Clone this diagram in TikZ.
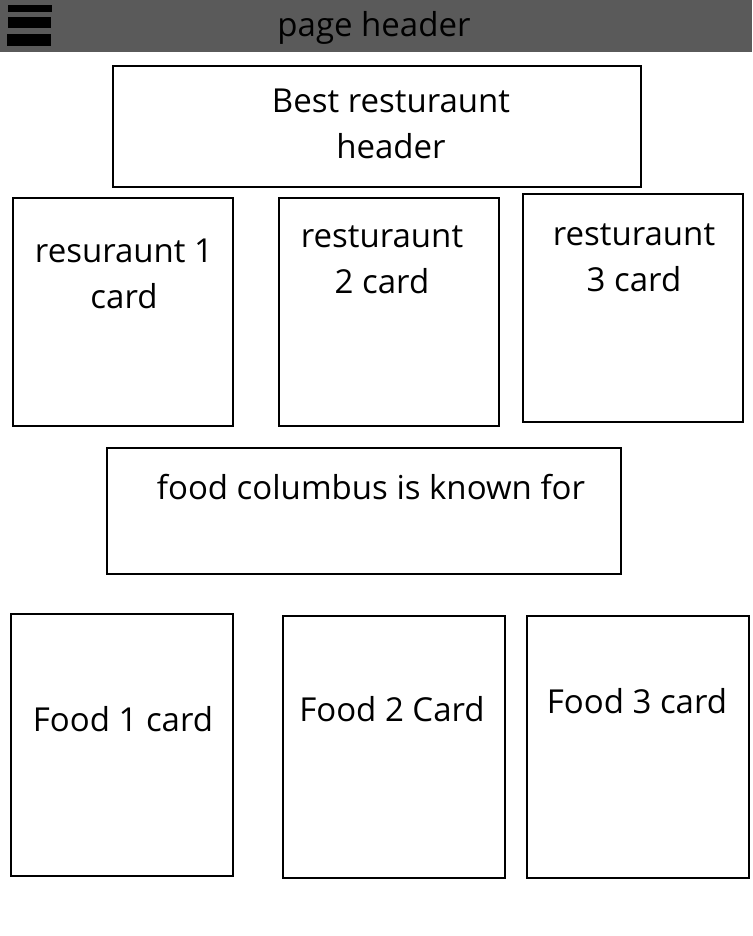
\documentclass[tikz,border=0pt]{standalone}
\usepackage{fontspec}
\setmainfont{Open Sans}
\usepackage{tikz}
\definecolor{headgray}{RGB}{90,90,90}
\tikzset{
	card/.style={line width=2pt, draw=black},
	label/.style={font=\fontsize{33}{46}\selectfont, align=center, inner sep=0pt}
}

\begin{document}
\begin{tikzpicture}[x=1pt, y=-1pt]
			%%%%% START %%%%%
			\useasboundingbox (0, 0) rectangle (752, 936);
			\fill[white] (0, 0) rectangle (752, 936);
			
			\fill[headgray] (0, 0) rectangle (752, 52);
			\fill[black] (8, 5) rectangle (52, 12);
			\fill[black] (8, 17) rectangle (51, 28);
			\fill[black] (7, 34) rectangle (51, 46);
			\node[label] (pagehead) at (374, 28) {page header};
			
			\draw[card] (113, 66) rectangle (641, 187);
			\node[label] (besthead) at (391, 124) {Best resturaunt\\header};
			
			\draw[card] (13, 198) rectangle (233, 426);
			\node[label] (rest1) at (124, 274) {resuraunt 1\\card};
			\draw[card] (279, 198) rectangle (499, 426);
			\node[label] (rest2) at (382, 260) {resturaunt\\2 card};
			\draw[card] (523, 194) rectangle (743, 422);
			\node[label] (rest3) at (634, 258) {resturaunt\\3 card};
			
			\draw[card] (107, 448) rectangle (621, 574);
			\node[label] (foodhead) at (371, 487) {food columbus is known for};
			
			\draw[card] (11, 614) rectangle (233, 876);
			\node[label] (food1) at (123, 719) {Food 1 card};
			\draw[card] (283, 616) rectangle (505, 878);
			\node[label] (food2) at (392, 709) {Food 2 Card};
			\draw[card] (527, 616) rectangle (749, 878);
			\node[label] (food3) at (637, 701) {Food 3 card};
			
			%%%%% END %%%%%
\end{tikzpicture}
\end{document}
